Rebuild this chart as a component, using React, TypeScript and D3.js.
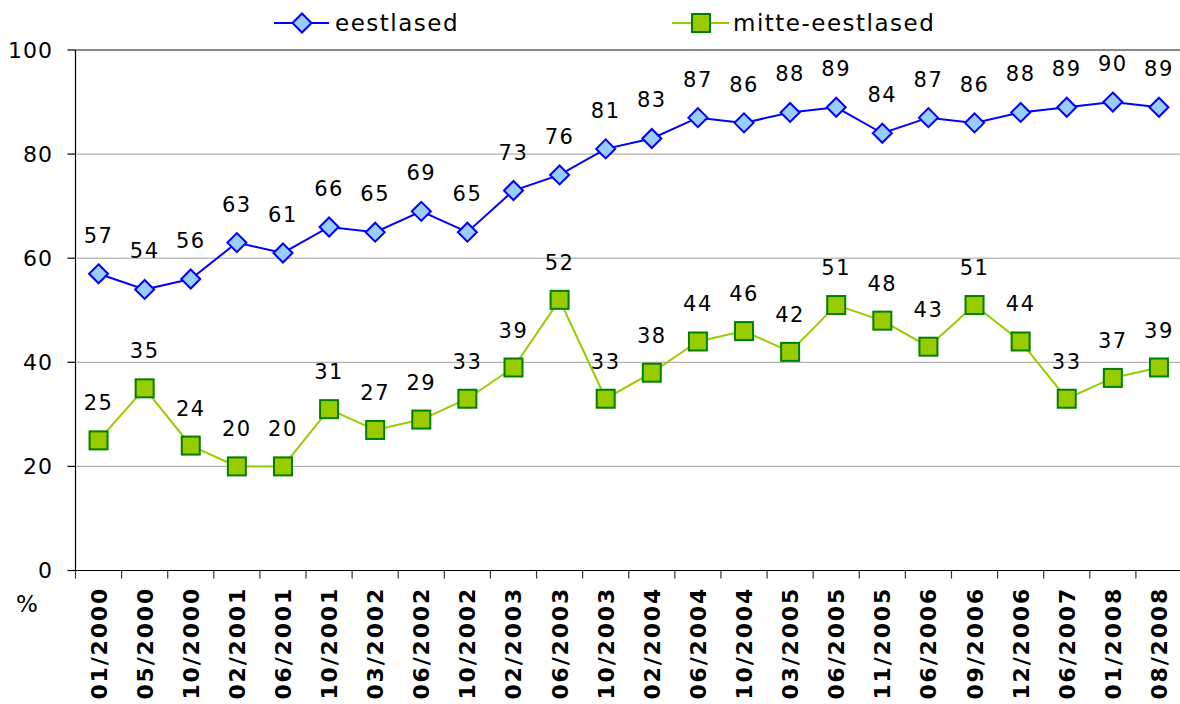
import React from "react";
import * as d3 from "d3";

const categories = ["01/2000","05/2000","10/2000","02/2001","06/2001","10/2001","03/2002","06/2002","10/2002","02/2003","06/2003","10/2003","02/2004","06/2004","10/2004","03/2005","06/2005","11/2005","06/2006","09/2006","12/2006","06/2007","01/2008","08/2008"];
const eestlased = [57,54,56,63,61,66,65,69,65,73,76,81,83,87,86,88,89,84,87,86,88,89,90,89];
const mitteEestlased = [25,35,24,20,20,31,27,29,33,39,52,33,38,44,46,42,51,48,43,51,44,33,37,39];
const yTicks = [0,20,40,60,80,100];
const seriesNames = ["eestlased","mitte-eestlased"];

const W = 1180, H = 704;
const left = 75.5, right = 1182, top = 50, bottom = 570.5;
const FONT = "'DejaVu Sans', Verdana, sans-serif";

export default function App() {
  const x = d3.scaleBand<string>().domain(categories).range([left, right]).padding(0);
  const y = d3.scaleLinear().domain([0, 100]).range([bottom, top]);
  const cx = (c: string) => (x(c) as number) + x.bandwidth() / 2;
  const line = d3.line<number>().x((_, i) => cx(categories[i])).y((d) => y(d));
  const bounds = [...categories.map((c) => x(c) as number), right];

  const diamond = (px: number, py: number, r = 9.5) =>
    `M${px},${py - r}L${px + r},${py}L${px},${py + r}L${px - r},${py}Z`;

  return (
    <svg width={W} height={H} style={{ position: "absolute", left: 0, top: 0, background: "#fff" }} fontFamily={FONT}>
      {/* gridlines */}
      {yTicks.filter((t) => t > 0).map((t) => (
        <line key={t} x1={left} x2={W} y1={y(t)} y2={y(t)} stroke={t === 100 ? "#888" : "#a0a0a0"} strokeWidth={t === 100 ? 2 : 1} />
      ))}
      {/* axes */}
      <line x1={left} x2={left} y1={top} y2={bottom} stroke="#000" strokeWidth={1.2} />
      <line x1={left} x2={W} y1={bottom} y2={bottom} stroke="#000" strokeWidth={1.2} />
      {yTicks.map((t) => (
        <g key={t}>
          <line x1={left - 8} x2={left} y1={y(t)} y2={y(t)} stroke="#000" strokeWidth={1.2} />
          <text x={53} y={y(t)} dy="0.36em" textAnchor="end" fontSize={22} letterSpacing={1} fill="#000">{t}</text>
        </g>
      ))}
      {bounds.map((b, i) => (
        <line key={i} x1={b} x2={b} y1={bottom} y2={bottom + 8} stroke="#333" strokeWidth={1.2} />
      ))}
      <text x={16} y={612} fontSize={23} fill="#000">%</text>
      {categories.map((c) => (
        <text key={c} transform={`translate(${cx(c) + 8},587) rotate(-90)`} textAnchor="end" fontSize={22} fontWeight="bold" letterSpacing={1.8} fill="#000">{c}</text>
      ))}
      {/* series lines */}
      <path d={line(eestlased) as string} fill="none" stroke="#0000ff" strokeWidth={2} />
      <path d={line(mitteEestlased) as string} fill="none" stroke="#99cc00" strokeWidth={2} />
      {eestlased.map((v, i) => (
        <path key={i} d={diamond(cx(categories[i]), y(v))} fill="#99ccff" stroke="#0000ff" strokeWidth={2} />
      ))}
      {mitteEestlased.map((v, i) => (
        <rect key={i} x={cx(categories[i]) - 9} y={y(v) - 9} width={18} height={18} fill="#99cc00" stroke="#008000" strokeWidth={2} />
      ))}
      {eestlased.map((v, i) => (
        <text key={i} x={cx(categories[i])} y={y(v) - 31} textAnchor="middle" fontSize={21} letterSpacing={1.5} fill="#000">{v}</text>
      ))}
      {mitteEestlased.map((v, i) => (
        <text key={i} x={cx(categories[i])} y={y(v) - 30} textAnchor="middle" fontSize={21} letterSpacing={1.5} fill="#000">{v}</text>
      ))}
      {/* legend */}
      <line x1={274} x2={329} y1={23} y2={23} stroke="#0000ff" strokeWidth={2} />
      <path d={diamond(302, 23)} fill="#99ccff" stroke="#0000ff" strokeWidth={2} />
      <text x={335} y={23} dy="0.36em" fontSize={23} letterSpacing={1.5} fill="#000">{seriesNames[0]}</text>
      <line x1={672} x2={729} y1={23} y2={23} stroke="#99cc00" strokeWidth={2} />
      <rect x={692} y={14} width={18} height={18} fill="#99cc00" stroke="#008000" strokeWidth={2} />
      <text x={733} y={23} dy="0.36em" fontSize={23} letterSpacing={1.5} fill="#000">{seriesNames[1]}</text>
    </svg>
  );
}
